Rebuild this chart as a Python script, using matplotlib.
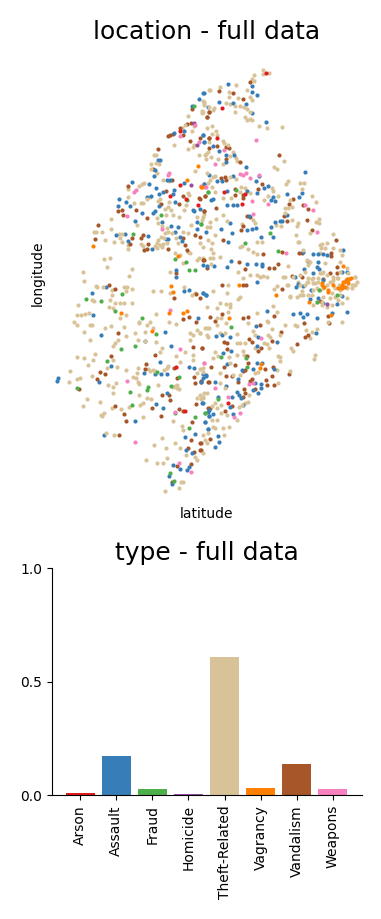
import matplotlib
matplotlib.use("Agg")
import matplotlib.pyplot as plt

# bar chart values
types = ["Arson", "Assault", "Fraud", "Homicide", "Theft-Related", "Vagrancy", "Vandalism", "Weapons"]
shares = [0.01, 0.173, 0.028, 0.005, 0.609, 0.032, 0.138, 0.028]
colors = ["#e41a1c", "#377eb8", "#4daf4a", "#984ea3", "#d8c297", "#ff7f00", "#a65628", "#f781bf"]

# scatter readings, one set of lists per quarter of the map (read at 3x)
assault_nw = [(491,98),(477,117),(455,138),(433,214),(402,218),(488,226),(492,247),(354,300),(360,299),(345,329),(342,348),(507,344),(276,365),(326,371),(347,384),(382,359),(390,359),(432,370),(492,372),(402,390),(358,403),(368,397),(398,403),(238,418),(234,437),(259,425),(270,437),(332,407),(320,412),(357,438),(404,426),(459,450),(463,453),(480,447),(345,453),(338,458),(307,460),(284,484),(366,485),(394,497),(415,501),(471,487),(472,506),(498,516),(229,525),(255,522),(263,544),(325,527),(404,517),(421,530),(378,537),(385,537),(427,543),(336,567),(408,631),(408,650),(488,616)]
vandal_nw = [(457,147),(501,172),(508,155),(442,193),(453,190),(420,205),(430,225),(384,229),(389,226),(400,222),(449,243),(479,235),(506,235),(355,266),(340,327),(396,359),(265,378),(378,392),(430,408),(476,414),(495,409),(362,431),(416,431),(493,453),(234,453),(246,450),(248,466),(289,450),(320,475),(173,495),(166,537),(464,525),(481,531),(270,551),(275,533),(304,533),(310,525),(324,552),(312,569),(320,566),(385,566),(434,555),(442,571),(430,533),(490,600),(408,640),(479,418)]
arson_nw = [(420,214),(421,374),(391,408),(475,436),(438,416)]
fraud_nw = [(462,137),(280,522),(364,465),(442,421),(503,396),(484,492),(406,598),(439,605),(447,630),(464,631)]
homicide_nw = [(463,188),(471,254),(454,375)]
vagrancy_nw = [(473,319),(441,361),(485,381),(160,557),(414,588)]
weapons_nw = [(466,195),(421,228),(476,247),(384,346),(388,340),(289,389),(281,396),(482,379),(496,382),(262,467),(365,508)]
theft_nw = [(487,152),(491,125),(491,135),(508,90),(444,168),(434,196),(462,198),(455,212),(427,205),(402,256),(444,268),(462,255),(460,262),(476,284),(498,282),(497,297),(505,275),(342,284),(347,286),(349,310),(358,312),(333,327),(352,338),(333,312),(466,333),(368,360),(388,362),(312,368),(298,378),(305,372),(264,387),(503,370),(445,400),(448,405),(360,416),(302,428),(308,430),(322,418),(330,410),(281,428),(265,412),(387,427),(354,422),(385,440),(376,447),(379,465),(392,450),(398,464),(432,451),(438,435),(418,470),(453,495),(472,470),(485,480),(493,462),(213,478),(163,515),(168,517),(187,516),(212,507),(196,540),(222,546),(237,523),(246,522),(240,535),(245,545),(265,555),(265,567),(290,495),(303,552),(308,558),(350,475),(355,490),(366,498),(380,505),(385,515),(375,520),(372,535),(362,530),(355,540),(350,550),(360,555),(370,552),(380,548),(345,558),(350,565),(365,560),(395,520),(408,535),(415,550),(405,580),(420,585),(445,575),(450,580),(470,600),(478,595),(430,610),(192,598),(210,594),(200,622),(130,637),(276,628),(266,647),(390,635),(445,520),(430,515),(500,500),(510,485),(505,540),(490,560),(480,550)]

assault_ne = [(85,71),(155,78),(155,97),(172,106),(10,98),(100,130),(138,131),(57,126),(23,142),(155,160),(198,186),(8,226),(12,247),(38,259),(58,274),(78,285),(103,286),(78,306),(138,322),(314,335),(100,348),(178,349),(168,362),(12,372),(65,363),(50,362),(203,378),(193,385),(142,394),(82,393),(170,398),(260,401),(307,400),(298,410),(220,412),(212,420),(225,424),(38,417),(32,421),(82,436),(98,435),(112,436),(262,466),(225,487),(240,482),(245,482),(148,469),(90,488),(62,507),(95,519),(168,503),(212,501),(156,507),(142,510),(183,531),(218,530),(83,547),(428,570),(310,576),(338,583),(355,581),(368,582),(380,584),(92,602),(142,613),(168,613),(186,612),(186,618),(82,622),(42,617),(22,617),(328,606),(355,605),(350,622),(358,626),(340,640),(312,628),(440,635),(425,635),(285,652)]
vandal_ne = [(57,92),(100,98),(128,117),(150,67),(28,155),(20,172),(27,234),(78,262),(88,264),(28,264),(50,257),(78,298),(120,307),(237,285),(75,350),(62,355),(78,360),(185,371),(173,388),(105,388),(105,405),(130,405),(130,415),(278,417),(267,432),(308,434),(325,446),(47,443),(15,409),(12,452),(140,467),(150,470),(252,467),(260,482),(322,480),(335,509),(130,497),(124,510),(409,539),(70,541),(190,582),(245,576),(298,578),(305,578),(392,578),(392,588),(118,605),(234,612),(222,625),(207,624),(135,628),(12,600),(20,625),(412,622),(410,640),(390,638),(275,648),(305,650),(370,656)]
arson_ne = [(197,38),(65,144),(52,235),(72,397),(134,402),(125,431)]
fraud_ne = [(107,391),(23,396),(4,492),(134,550),(210,519),(235,572)]
vagrancy_ne = [(4,382),(430,618),(440,657),(445,657)]
weapons_ne = [(167,240),(72,270),(44,313),(120,341),(130,344),(138,339),(150,354),(177,346),(17,382),(155,424),(204,433),(315,436),(340,450),(352,516),(258,580),(158,462)]
theft_ne = [(190,30),(188,42),(208,39),(163,45),(155,58),(163,63),(108,75),(30,89),(60,82),(142,90),(150,110),(155,120),(88,95),(88,112),(114,114),(78,128),(90,133),(105,137),(120,139),(133,140),(142,148),(150,155),(105,155),(42,145),(40,150),(28,142),(8,155),(5,160),(12,130),(10,122),(135,172),(142,180),(150,178),(155,181),(178,198),(200,203),(246,201),(35,197),(20,205),(47,213),(35,222),(50,225),(28,246),(70,242),(72,250),(85,255),(100,275),(90,288),(107,295),(55,296),(32,292),(15,285),(68,312),(222,321),(230,326),(251,304),(112,304),(20,338),(38,350),(46,349),(30,360),(90,350),(108,358),(123,382),(135,385),(150,400),(120,396),(93,415),(70,415),(44,396),(36,380),(215,385),(218,392),(264,364),(257,373),(300,370),(311,368),(305,386),(235,407),(204,408),(192,420),(336,408),(347,426),(270,420),(255,445),(265,445),(275,440),(255,460),(47,476),(68,465),(10,470),(30,500),(45,525),(80,483),(125,493),(160,480),(165,490),(275,480),(295,490),(292,498),(228,495),(242,497),(358,476),(348,486),(358,488),(330,520),(289,524),(296,545),(398,522),(380,548),(365,552),(362,565),(360,578),(172,546),(187,545),(125,558),(120,562),(143,568),(160,575),(170,583),(37,550),(34,567),(38,578),(60,590),(10,595),(30,595),(40,595),(32,612),(150,645),(115,637),(128,655),(170,645),(180,650),(190,648),(200,650),(265,617),(320,602),(420,605),(375,610),(365,640),(250,650),(325,655),(340,655),(355,655),(415,655),(465,650)]

assault_sw = [(55,295),(52,302),(155,39),(197,20),(160,104),(182,164),(315,182),(375,157),(392,198),(213,257),(176,305),(360,247),(313,280),(345,283),(362,281),(382,281),(446,262),(461,265),(433,33),(448,30),(490,40),(497,45),(473,115),(382,338),(349,371),(369,385),(285,424),(193,465),(434,470),(437,510),(457,519),(465,461),(503,447),(496,427),(488,370),(505,395),(507,408),(400,555),(420,568),(440,570),(447,562),(386,588),(395,612),(490,283),(498,288),(482,305)]
vandal_sw = [(206,15),(225,27),(402,53),(480,55),(467,42),(429,116),(448,112),(467,126),(234,160),(346,225),(460,201),(486,203),(214,227),(319,252),(315,268),(180,277),(195,282),(170,297),(117,326),(403,265),(412,293),(461,291),(465,308),(483,303),(505,305),(365,344),(388,344),(391,361),(224,377),(251,401),(257,424),(335,384),(364,408),(418,388),(428,392),(468,373),(456,426),(505,385),(452,480),(481,490),(445,505),(480,510),(462,515),(238,466),(410,558),(397,607),(452,552)]
arson_sw = [(408,260),(434,392)]
fraud_sw = [(138,57),(183,63),(245,43),(226,94),(306,113),(349,162),(285,197),(244,207),(200,244),(111,323),(323,320),(322,331),(270,335),(275,376),(392,318),(352,275),(417,291),(465,410),(495,399),(448,443),(405,400),(391,580),(403,603)]
vagrancy_sw = [(393,17),(400,35),(243,98),(335,152),(387,100),(430,99),(441,92)]
weapons_sw = [(390,90),(421,208),(492,248),(260,304),(404,396),(285,486),(417,548),(452,577)]
theft_sw = [(132,4),(168,17),(172,22),(190,20),(215,30),(253,20),(260,20),(277,27),(258,32),(340,32),(362,34),(390,38),(432,20),(455,45),(465,40),(155,60),(162,62),(215,45),(210,60),(225,68),(240,68),(252,70),(277,70),(114,76),(206,80),(218,85),(110,104),(122,106),(135,101),(148,100),(257,104),(349,102),(102,125),(110,135),(150,134),(156,135),(212,137),(194,144),(132,155),(149,179),(240,115),(252,140),(296,126),(298,130),(320,135),(330,127),(315,155),(340,145),(285,160),(259,167),(293,180),(235,180),(225,190),(218,198),(347,185),(315,182),(365,205),(360,215),(387,127),(408,132),(112,231),(131,235),(158,240),(165,222),(144,255),(218,240),(232,262),(200,265),(259,271),(295,265),(290,278),(340,270),(330,272),(345,272),(325,268),(385,258),(380,265),(372,270),(91,274),(155,287),(120,293),(110,296),(87,306),(280,291),(288,293),(295,305),(298,312),(205,316),(228,309),(220,322),(218,338),(355,316),(298,346),(320,355),(332,358),(141,356),(130,379),(180,365),(215,383),(243,386),(268,381),(300,375),(308,368),(186,408),(192,400),(183,405),(308,411),(398,424),(405,318),(410,325),(418,328),(400,322),(412,315),(480,345),(492,340),(488,355),(470,355),(198,458),(222,465),(365,474),(343,495),(405,490),(425,438),(430,450),(378,505),(319,540),(350,548),(370,550),(380,534),(465,530),(470,540),(423,607),(430,607),(375,632),(417,624),(460,165),(470,150),(480,160),(500,145),(505,170),(450,180),(450,160),(460,225),(458,240),(420,245),(408,228),(435,215),(470,280),(490,265),(500,340),(420,505),(438,525),(495,480),(505,460)]

assault_se = [(170,5),(294,12),(287,20),(310,18),(332,30),(368,0),(18,45),(8,40),(330,58),(370,70),(412,72),(353,55),(425,48),(440,95),(396,98),(280,103),(300,100),(320,103),(310,112),(352,113),(201,93),(168,138),(48,169),(65,165),(90,170),(175,172),(230,187),(172,198),(70,220),(94,212),(348,160),(125,270),(160,268),(170,250),(186,250),(222,268),(80,253),(10,293),(18,285),(46,307),(115,298),(165,310),(182,312),(182,325),(175,338),(158,330),(112,335),(118,345),(122,353),(55,350),(78,318),(95,350),(90,380),(130,375),(7,370),(28,390),(38,402),(27,408),(98,401),(16,427),(23,447),(53,467),(57,485),(46,500)]
vandal_se = [(65,14),(128,14),(138,14),(246,26),(360,63),(385,108),(388,130),(312,130),(130,114),(143,110),(181,136),(223,107),(65,103),(30,112),(45,122),(314,172),(325,165),(290,192),(242,155),(215,182),(148,177),(157,187),(183,203),(175,213),(72,185),(80,190),(80,208),(5,203),(142,228),(145,250),(104,256),(33,260),(72,260),(135,270),(130,273),(194,268),(218,262),(216,288),(267,283),(198,300),(222,315),(200,316),(150,303),(115,307),(3,305),(26,306),(132,328),(135,338),(165,328),(130,352),(96,378),(75,393),(30,385),(78,288),(95,288),(30,477),(2,490),(2,510),(155,297)]
arson_se = [(85,370)]
fraud_se = [(358,30),(350,67),(93,140),(137,233),(142,262),(15,400),(53,358),(62,232),(410,45)]
homicide_se = [(382,72)]
vagrancy_se = [(116,15),(228,45),(328,67),(392,105),(86,113),(182,252),(180,265),(365,15),(385,30),(400,15),(430,5),(440,0),(445,10),(435,20),(415,25),(425,25),(372,20),(420,24),(426,14),(432,5),(438,0),(446,-4),(452,-5),(366,9),(384,35)]
weapons_se = [(12,248),(182,175),(147,313),(158,310),(45,325),(85,350),(120,398),(103,412)]
theft_se = [(85,15),(38,33),(80,40),(222,28),(232,17),(265,16),(300,45),(270,48),(305,33),(60,68),(78,72),(90,72),(90,82),(52,85),(22,82),(120,50),(115,57),(170,98),(85,95),(220,77),(232,95),(50,115),(62,115),(78,128),(50,135),(145,130),(200,122),(205,125),(255,136),(285,136),(292,137),(318,150),(335,155),(350,147),(330,175),(385,125),(425,125),(215,148),(205,165),(240,165),(210,170),(160,152),(165,165),(110,163),(60,158),(75,160),(15,143),(28,145),(22,165),(0,160),(110,190),(120,190),(135,190),(192,190),(200,192),(208,205),(165,205),(272,205),(278,213),(130,212),(132,225),(110,225),(88,230),(45,215),(38,233),(55,228),(235,228),(240,230),(241,243),(345,225),(343,238),(90,248),(60,280),(270,272),(232,270),(10,275),(0,268),(165,280),(175,275),(234,308),(120,285),(100,285),(60,310),(75,325),(148,345),(145,365),(135,368),(125,375),(118,382),(10,350),(3,358),(45,370),(62,375),(35,378),(50,385),(62,398),(80,405),(112,420),(50,420),(35,420),(68,443),(88,441),(38,440),(45,445),(10,465),(72,465),(20,488),(10,518),(295,5),(320,5),(340,8),(355,5),(395,5),(405,25),(420,30),(440,25),(455,15),(465,15),(415,60),(395,40)]
# the dense patch on the right
theft_patch = [(95,118),(85,125),(105,128),(75,135),(60,135),(110,145),(120,150),(130,145),(140,135),(150,125),(160,120),(170,115),(178,135),(190,140),(200,140),(215,145),(220,135),(100,150),(95,165),(130,170),(150,175),(165,170),(180,165),(125,185),(110,185),(85,165),(70,165),(50,170),(30,170),(22,135),(15,110),(40,110),(60,105),(75,95),(120,100),(130,95),(140,105),(160,110),(180,95),(200,85),(205,100),(225,110),(230,125),(200,175),(185,190),(155,195),(140,200),(125,195),(100,195),(90,65),(80,60),(85,75),(120,15),(135,25),(160,25),(185,45),(180,30),(55,5),(70,30)]

# where each crop starts on the map
NW = (40, 60)
NE = (200, 60)
SW = (40, 280)
SE = (200, 280)
PATCH = (280, 240)


def unpack(parts):
    lat, lon = [], []
    for start, pts in parts:
        for a, b in pts:
            lat.append(start[0] + a / 3)
            lon.append(start[1] + b / 3)
    return lat, lon


theft_low = [(NW, theft_nw[::2]), (NE, theft_ne[::2]), (SW, theft_sw[::2]), (SE, theft_se[::2])]
theft_high = [(NW, theft_nw[1::2]), (NE, theft_ne[1::2]), (SW, theft_sw[1::2]), (SE, theft_se[1::2]), (PATCH, theft_patch)]

# draw order: half of the tan goes over blue and brown, rare types stay on top
layers = [
    (4, theft_low),
    (6, [(NW, vandal_nw), (NE, vandal_ne), (SW, vandal_sw), (SE, vandal_se)]),
    (1, [(NW, assault_nw), (NE, assault_ne), (SW, assault_sw), (SE, assault_se)]),
    (4, theft_high),
    (2, [(NW, fraud_nw), (NE, fraud_ne), (SW, fraud_sw), (SE, fraud_se)]),
    (3, [(NW, homicide_nw), (SE, homicide_se)]),
    (7, [(NW, weapons_nw), (NE, weapons_ne), (SW, weapons_sw), (SE, weapons_se)]),
    (0, [(NW, arson_nw), (NE, arson_ne), (SW, arson_sw), (SE, arson_se)]),
    (5, [(NW, vagrancy_nw), (NE, vagrancy_ne), (SW, vagrancy_sw), (SE, vagrancy_se)]),
]

W, H = 381, 919
fig = plt.figure(figsize=(W / 100, H / 100), dpi=100)

# =============================
# location map
# =============================
ax1 = fig.add_axes([51.5 / W, 1 - 500 / H, 310 / W, 453 / H])
for idx, parts in layers:
    lat, lon = unpack(parts)
    ax1.scatter(lat, lon, s=9, color=colors[idx], linewidths=0)
ax1.set_xlim(51.5, 361.5)
ax1.set_ylim(500, 47)
ax1.set_xticks([])
ax1.set_yticks([])
for side in ax1.spines.values():
    side.set_visible(False)
ax1.set_xlabel("latitude", labelpad=5)
ax1.set_ylabel("longitude", labelpad=4.5)
ax1.set_title("location - full data", fontsize=18)

# =============================
# type shares
# =============================
ax2 = fig.add_axes([52 / W, 1 - 795.3 / H, 310 / W, 227 / H])
ax2.bar(range(len(types)), shares, width=0.8, color=colors)
ax2.set_xlim(-0.78, 7.81)
ax2.set_ylim(0, 1)
ax2.set_yticks([0, 0.5, 1.0])
ax2.set_xticks(range(len(types)))
ax2.set_xticklabels(types, rotation=90)
ax2.spines["top"].set_visible(False)
ax2.spines["right"].set_visible(False)
ax2.set_title("type - full data", fontsize=18)

fig.savefig("out.png", dpi=100)
